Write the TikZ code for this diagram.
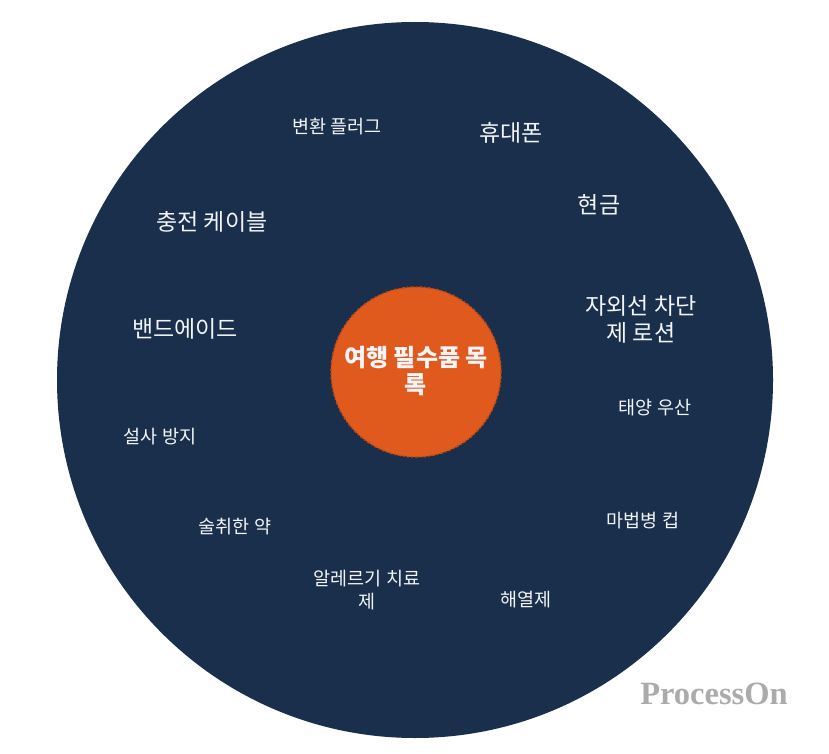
\documentclass[tikz,border=0pt]{standalone}
\usepackage{fontspec}
\setmainfont{Noto Sans CJK KR}
\newfontfamily\wmfont{Liberation Serif}
\definecolor{navy}{HTML}{1A2F4B}
\definecolor{orng}{HTML}{DF5A1C}
\definecolor{orngdk}{HTML}{C24A14}
\definecolor{txt}{HTML}{F2F4F7}
\definecolor{wm}{HTML}{ABABAB}
\begin{document}
\begin{tikzpicture}[x=1pt,y=-1pt,
  big/.style={text=txt,font=\fontsize{23}{27}\selectfont,align=center,inner sep=0pt},
  small/.style={text=txt,font=\fontsize{18.5}{23}\selectfont,align=center,inner sep=0pt}]
\useasboundingbox (0,0) rectangle (829,754);
\fill[white] (0,0) rectangle (829,754);
\node[circle,fill=navy,minimum size=716pt,inner sep=0pt] (outer) at (415,380) {};
\node[circle,fill=orng,draw=orngdk,line width=1.5pt,dash dot,minimum size=170pt,inner sep=0pt] (center) at (416,372) {};
\node[text=txt,font=\bfseries\fontsize{24}{27}\selectfont,align=center,inner sep=0pt] (title) at (416,371) {여행 필수품 목\\록};
\node[small] (plug) at (337,127) {변환 플러그};
\node[big] (phone) at (511,133) {휴대폰};
\node[big] (cash) at (599,205) {현금};
\node[big] (cable) at (212,222) {충전 케이블};
\node[big] (sun) at (641,319) {자외선 차단\\제 로션};
\node[big] (band) at (185,329) {밴드에이드};
\node[small] (umb) at (655,408) {태양 우산};
\node[small] (diar) at (160,437) {설사 방지};
\node[small] (hang) at (235,527) {술취한 약};
\node[small] (cup) at (643,521) {마법병 컵};
\node[small] (aller) at (367,590) {알레르기 치료\\제};
\node[small] (fever) at (526,600) {해열제};
\node[text=wm,font=\wmfont\bfseries\fontsize{32.5}{36}\selectfont,inner sep=0pt] (mark) at (714,694) {ProcessOn};
\end{tikzpicture}
\end{document}
